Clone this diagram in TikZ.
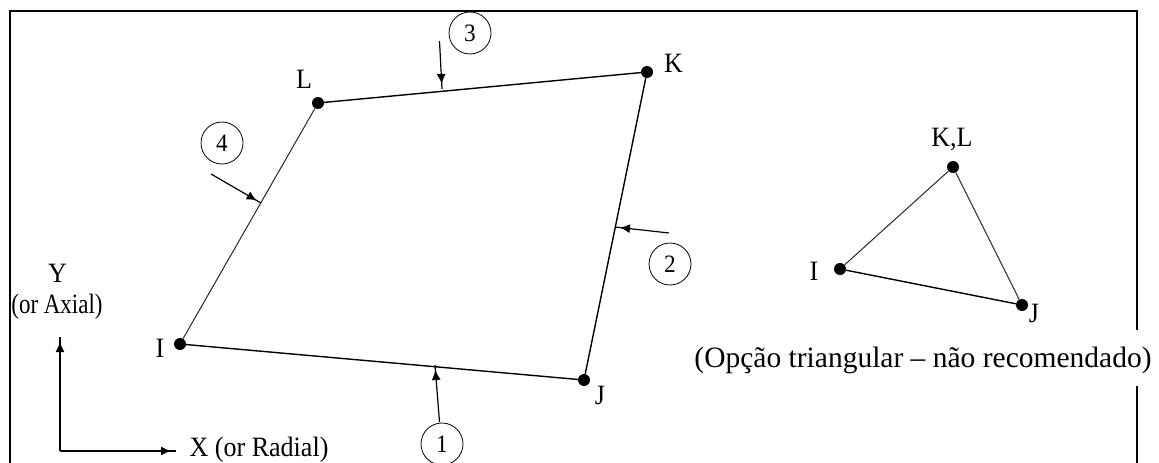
\documentclass[tikz,border=0pt]{standalone}
\usepackage{fontspec}
\setmainfont{Liberation Serif}
\newfontfamily\labfont[FakeStretch=0.93]{Liberation Serif}
\newfontfamily\axfont[FakeStretch=0.82]{Liberation Serif}
\usetikzlibrary{arrows.meta,decorations.markings}
\tikzset{
  frameline/.style={line width=1.5pt,black},
  edgeline/.style={line width=1.4pt,black},
  thinedge/.style={line width=1pt,black!85},
  dotnode/.style={circle,fill=black,inner sep=0pt,minimum size=12pt},
  lab/.style={inner sep=0pt,font=\labfont\fontsize{28}{30}\selectfont},
  axlab/.style={inner sep=0pt,font=\axfont\fontsize{28}{30}\selectfont},
  numnode/.style={circle,draw=black,line width=0.8pt,minimum size=42pt,inner sep=0pt,font=\labfont\fontsize{25}{27}\selectfont},
  pointer/.style={line width=1.2pt,black,postaction={decorate},
    decoration={markings,mark=at position 1 with {\arrow[xshift=-5pt]{Latex[length=10pt,width=9pt]}}}}
}
\begin{document}
\begin{tikzpicture}[x=1pt,y=-1pt]
\useasboundingbox (0,0) rectangle (1159,463);
% frame
\coordinate (fa) at (1137,330);
\coordinate (fb) at (1137,11);
\coordinate (fc) at (10,11);
\coordinate (fd) at (10,463);
\coordinate (fe) at (1137,386);
\coordinate (ff) at (1137,463);
\draw[frameline] (fa) -- (fb) -- (fc) -- (fd);
\draw[frameline] (fe) -- (ff);
% quadrilateral
\node[dotnode] (I) at (180,344) {};
\node[dotnode] (J) at (584,380) {};
\node[dotnode] (K) at (647,72) {};
\node[dotnode] (L) at (318,103) {};
\draw[edgeline] (I) -- (J);
\draw[edgeline] (J) -- (K);
\draw[edgeline] (K) -- (L);
\draw[thinedge] (L) -- (I);
\node[lab] (tI) at (160,348) {I};
\node[lab] (tJ) at (600,395) {J};
\node[lab] (tK) at (673.5,63) {K};
\node[lab] (tL) at (304,79) {L};
% numbered markers
\node[numnode] (n1) at (442,444) {1};
\node[numnode] (n2) at (670,264) {2};
\node[numnode] (n3) at (470,33) {3};
\node[numnode] (n4) at (222,143) {4};
\coordinate (s1) at (439.5,422);
\coordinate (e1) at (435,365);
\coordinate (s2) at (669,233);
\coordinate (e2) at (615,227);
\coordinate (s3) at (439.5,41);
\coordinate (e3) at (442,89);
\coordinate (s4) at (211,174);
\coordinate (e4) at (261,203);
\draw[pointer] (s1) -- (e1);
\draw[pointer] (s2) -- (e2);
\draw[pointer] (s3) -- (e3);
\draw[pointer] (s4) -- (e4);
% axes
\coordinate (o) at (60,451);
\coordinate (ay) at (60,337);
\coordinate (ax) at (176,451);
\draw[pointer] (o) -- (ay);
\draw[pointer] (o) -- (ax);
\node[lab] (tY) at (57.5,273.5) {Y};
\node[axlab] (tA) at (57,306.5) {(or Axial)};
\node[lab] (tX) at (259,450) {X (or Radial)};
% triangle
\node[dotnode] (tri) at (840,269) {};
\node[dotnode] (trj) at (1022,305) {};
\node[dotnode] (trk) at (953,167) {};
\draw[edgeline] (tri) -- (trj);
\draw[thinedge] (trj) -- (trk);
\draw[thinedge] (trk) -- (tri);
\node[lab] (lI) at (814,271) {I};
\node[lab] (lJ) at (1034,313) {J};
\node[lab] (lKL) at (952,139) {K,L};
\node[inner sep=0pt,font=\fontsize{29.5}{31}\selectfont] (cap) at (923,360) {(Opção triangular – não recomendado)};
\end{tikzpicture}
\end{document}
